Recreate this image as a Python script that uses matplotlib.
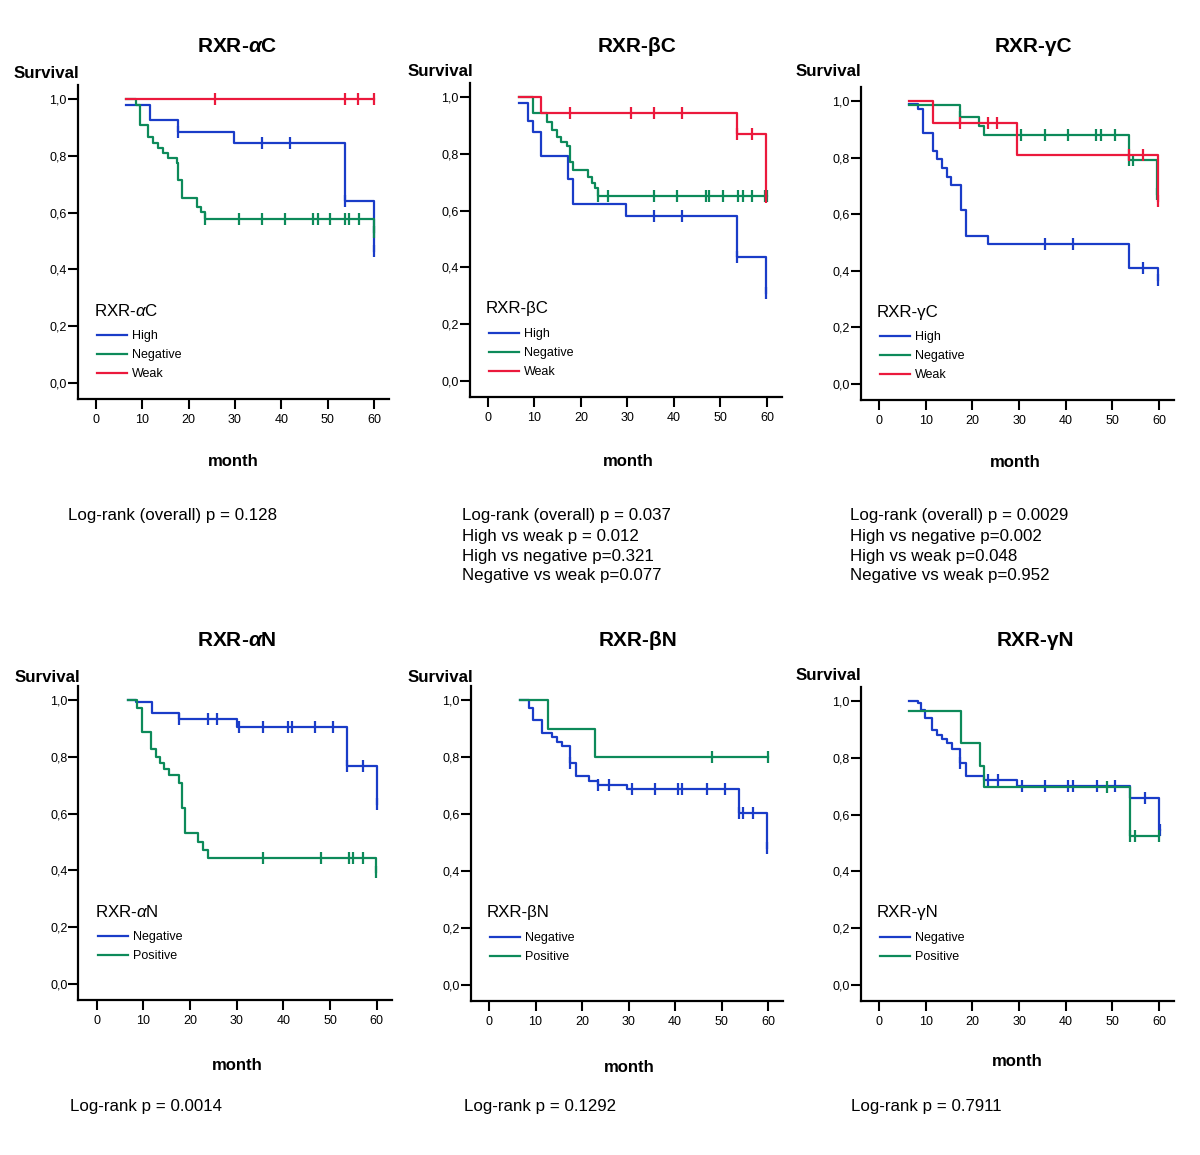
import numpy as np
import matplotlib
matplotlib.use('Agg')
import matplotlib.pyplot as plt

plt.rcParams['font.family'] = ['Liberation Sans', 'DejaVu Sans']
plt.rcParams['mathtext.fontset'] = 'custom'
plt.rcParams['mathtext.rm'] = 'Liberation Sans'
plt.rcParams['mathtext.it'] = 'Liberation Sans:italic'
plt.rcParams['mathtext.bf'] = 'Liberation Sans:bold:italic'

BLUE = '#1a3cc8'
GREEN = '#0d8a5a'
RED = '#eb193c'

W, H = 1200, 1155

# ---- data (month, survival) ----
# RXR-alpha C
aC_high_t = [6.5, 11.7, 17.6, 29.8, 53.7, 59.9]
aC_high_s = [0.98, 0.926, 0.885, 0.844, 0.642, 0.466]
aC_high_cens = [17.6, 35.8, 41.9, 53.7, 59.9]
aC_neg_t = [6.5, 8.6, 9.5, 11.3, 12.4, 13.4, 14.5, 15.6, 17.4, 17.8, 18.5, 21.7, 22.6, 23.5, 59.9]
aC_neg_s = [1.0, 0.98, 0.908, 0.867, 0.844, 0.826, 0.811, 0.793, 0.775, 0.714, 0.650, 0.621, 0.603, 0.576, 0.533]
aC_neg_cens = [23.5, 30.9, 35.8, 40.8, 46.9, 48.0, 50.6, 53.7, 54.7, 56.8, 59.9]
aC_weak_t = [6.5]
aC_weak_s = [1.0]
aC_weak_cens = [25.7, 53.7, 56.6, 59.9]

# RXR-beta C
bC_high_t = [6.7, 8.7, 9.6, 11.4, 17.1, 18.3, 29.7, 53.5, 59.8]
bC_high_s = [0.98, 0.917, 0.875, 0.792, 0.710, 0.622, 0.582, 0.438, 0.309]
bC_high_cens = [35.7, 41.8, 53.5, 59.8]
bC_neg_t = [6.7, 9.6, 12.6, 13.7, 14.8, 15.8, 16.9, 17.6, 18.3, 21.6, 22.3, 23.0, 23.7]
bC_neg_s = [1.0, 0.945, 0.913, 0.884, 0.858, 0.843, 0.826, 0.772, 0.743, 0.719, 0.696, 0.678, 0.651]
bC_neg_cens = [23.7, 25.7, 35.7, 40.7, 46.8, 47.6, 50.6, 53.8, 54.8, 56.7, 59.6, 60.1]
bC_weak_t = [6.7, 11.5, 53.5, 59.8]
bC_weak_s = [1.0, 0.945, 0.869, 0.649]
bC_weak_cens = [17.6, 30.8, 35.7, 41.8, 53.5, 56.7, 59.8]

# RXR-gamma C
gC_high_t = [6.5, 8.4, 9.5, 11.5, 12.5, 13.6, 14.6, 15.4, 17.5, 18.6, 23.4, 53.6, 59.7]
gC_high_s = [0.99, 0.973, 0.888, 0.825, 0.794, 0.762, 0.733, 0.703, 0.615, 0.523, 0.494, 0.409, 0.367]
gC_high_cens = [35.6, 41.6, 56.6, 59.7]
gC_neg_t = [6.5, 17.4, 21.5, 22.4, 53.6, 59.5]
gC_neg_s = [0.985, 0.942, 0.91, 0.880, 0.792, 0.671]
gC_neg_cens = [17.4, 30.4, 35.6, 40.6, 46.6, 47.5, 50.6, 53.6, 54.5, 59.5]
gC_weak_t = [6.5, 11.5, 29.5, 59.7]
gC_weak_s = [1.0, 0.923, 0.809, 0.648]
gC_weak_cens = [17.4, 23.4, 25.2, 53.6, 56.6, 59.7]

# RXR-alpha N
aN_neg_t = [6.8, 8.5, 11.8, 17.7, 30.0, 53.6, 60.0]
aN_neg_s = [1.0, 0.994, 0.955, 0.932, 0.906, 0.768, 0.633]
aN_neg_cens = [17.7, 23.9, 25.8, 30.4, 35.7, 40.9, 41.8, 46.8, 50.7, 53.6, 57.0, 60.0]
aN_pos_t = [6.8, 8.6, 9.6, 11.6, 12.6, 13.6, 14.5, 15.5, 17.6, 18.2, 18.9, 21.8, 22.7, 23.8, 59.9]
aN_pos_s = [1.0, 0.971, 0.888, 0.827, 0.798, 0.777, 0.756, 0.736, 0.709, 0.618, 0.530, 0.501, 0.472, 0.443, 0.395]
aN_pos_cens = [35.7, 48.0, 54.0, 55.0, 57.0, 59.9]

# RXR-beta N
bN_neg_t = [6.7, 8.7, 9.5, 11.5, 13.5, 14.7, 15.6, 17.4, 18.7, 21.6, 23.4, 29.6, 53.8, 59.7]
bN_neg_s = [1.0, 0.971, 0.930, 0.885, 0.869, 0.854, 0.839, 0.778, 0.733, 0.717, 0.702, 0.687, 0.602, 0.480]
bN_neg_cens = [17.4, 23.5, 25.7, 30.7, 35.7, 40.7, 41.6, 46.8, 50.7, 53.8, 54.7, 56.8, 59.7]
bN_pos_t = [6.7, 12.6, 22.7]
bN_pos_s = [1.0, 0.9, 0.8]
bN_pos_cens = [47.9, 60.1]

# RXR-gamma N
gN_neg_t = [6.5, 8.4, 9.0, 9.8, 11.3, 12.4, 13.4, 14.6, 15.6, 17.4, 18.6, 22.5, 29.5, 53.8, 59.9]
gN_neg_s = [1.0, 0.992, 0.968, 0.939, 0.898, 0.880, 0.865, 0.852, 0.830, 0.780, 0.736, 0.722, 0.701, 0.660, 0.546]
gN_neg_cens = [17.4, 23.4, 25.6, 30.6, 35.6, 40.6, 41.5, 46.8, 50.6, 56.9, 60.2]
gN_pos_t = [6.5, 17.6, 21.6, 22.5, 53.8]
gN_pos_s = [0.966, 0.851, 0.771, 0.696, 0.525]
gN_pos_cens = [48.9, 53.8, 54.9, 60.1]

x_ticks = [0, 10, 20, 30, 40, 50, 60]
y_ticks = [0.0, 0.2, 0.4, 0.6, 0.8, 1.0]
y_ticklabels = ['0,0', '0,2', '0,4', '0,6', '0,8', '1,0']

# panel: title, legend title, groups, stats, geometry in pixels
panels = [
    dict(title=r'RXR-$\mathbf{\alpha}$C', leg=r'RXR-$\alpha$C',
         groups=[('High', BLUE, aC_high_t, aC_high_s, aC_high_cens),
                 ('Negative', GREEN, aC_neg_t, aC_neg_s, aC_neg_cens),
                 ('Weak', RED, aC_weak_t, aC_weak_s, aC_weak_cens)],
         stats=['Log-rank (overall) p = 0.128'],
         x0=96, sx=4.633, y1=99, y0=383,
         title_xy=(237, 47), surv_xy=(79, 74), month_xy=(233, 462), stats_xy=(68, 516)),
    dict(title='RXR-βC', leg='RXR-βC',
         groups=[('High', BLUE, bC_high_t, bC_high_s, bC_high_cens),
                 ('Negative', GREEN, bC_neg_t, bC_neg_s, bC_neg_cens),
                 ('Weak', RED, bC_weak_t, bC_weak_s, bC_weak_cens)],
         stats=['Log-rank (overall) p = 0.037', 'High vs weak p = 0.012',
                'High vs negative p=0.321', 'Negative vs weak p=0.077'],
         x0=488, sx=4.65, y1=97, y0=381,
         title_xy=(637, 47), surv_xy=(473, 72), month_xy=(628, 461), stats_xy=(462, 516)),
    dict(title='RXR-γC', leg='RXR-γC',
         groups=[('High', BLUE, gC_high_t, gC_high_s, gC_high_cens),
                 ('Negative', GREEN, gC_neg_t, gC_neg_s, gC_neg_cens),
                 ('Weak', RED, gC_weak_t, gC_weak_s, gC_weak_cens)],
         stats=['Log-rank (overall) p = 0.0029', 'High vs negative p=0.002',
                'High vs weak p=0.048', 'Negative vs weak p=0.952'],
         x0=879, sx=4.667, y1=101, y0=384,
         title_xy=(1033, 47), surv_xy=(861, 71), month_xy=(1015, 463), stats_xy=(850, 516)),
    dict(title=r'RXR-$\mathbf{\alpha}$N', leg=r'RXR-$\alpha$N',
         groups=[('Negative', BLUE, aN_neg_t, aN_neg_s, aN_neg_cens),
                 ('Positive', GREEN, aN_pos_t, aN_pos_s, aN_pos_cens)],
         stats=['Log-rank p = 0.0014'],
         x0=96.7, sx=4.667, y1=700, y0=984,
         title_xy=(237, 641), surv_xy=(80, 677), month_xy=(237, 1066), stats_xy=(70, 1106)),
    dict(title='RXR-βN', leg='RXR-βN',
         groups=[('Negative', BLUE, bN_neg_t, bN_neg_s, bN_neg_cens),
                 ('Positive', GREEN, bN_pos_t, bN_pos_s, bN_pos_cens)],
         stats=['Log-rank p = 0.1292'],
         x0=489, sx=4.65, y1=700, y0=985,
         title_xy=(638, 641), surv_xy=(473, 677), month_xy=(629, 1067), stats_xy=(464, 1106)),
    dict(title='RXR-γN', leg='RXR-γN',
         groups=[('Negative', BLUE, gN_neg_t, gN_neg_s, gN_neg_cens),
                 ('Positive', GREEN, gN_pos_t, gN_pos_s, gN_pos_cens)],
         stats=['Log-rank p = 0.7911'],
         x0=879, sx=4.667, y1=701, y0=985,
         title_xy=(1035, 641), surv_xy=(861, 676), month_xy=(1017, 1062), stats_xy=(851, 1106)),
]

XMIN, XMAX = -3.9, 63.3
YMIN, YMAX = -0.055, 1.05

fig = plt.figure(figsize=(W / 100, H / 100), dpi=100)


def fx(x):
    return x / W


def fy(y):
    return 1 - y / H


for p in panels:
    sy = p['y0'] - p['y1']
    left = p['x0'] + XMIN * p['sx']
    width = (XMAX - XMIN) * p['sx']
    top = p['y1'] - (YMAX - 1) * sy
    height = (YMAX - YMIN) * sy
    ax = fig.add_axes([fx(left), fy(top + height), width / W, height / H])

    handles = []
    for name, col, t, s, cens in p['groups']:
        end = max(t[-1], max(cens))
        xs = list(t) + [end]
        ys = list(s) + [s[-1]]
        ln, = ax.step(xs, ys, where='post', color=col, lw=1.6, label=name)
        # censor marks sit on the step function
        idx = np.searchsorted(np.array(t), np.array(cens), side='right') - 1
        cy = np.array(s)[idx]
        ax.plot(cens, cy, ls='none', marker='|', ms=8, mew=1.6, color=col)
        handles.append(ln)

    ax.set_xlim(XMIN, XMAX)
    ax.set_ylim(YMIN, YMAX)
    ax.set_xticks(x_ticks)
    ax.set_yticks(y_ticks)
    ax.set_yticklabels(y_ticklabels)
    ax.tick_params(axis='both', direction='out', length=7, width=1.5, labelsize=9)
    ax.tick_params(axis='y', pad=1)
    ax.tick_params(axis='x', pad=4)
    for side in ['top', 'right']:
        ax.spines[side].set_visible(False)
    for side in ['left', 'bottom']:
        ax.spines[side].set_linewidth(1.6)

    # legend: title as its own text, entries below
    ax.text(0.052, 0.28, p['leg'], transform=ax.transAxes, ha='left',
            va='center', fontsize=12.2)
    ax.legend(handles=handles, loc='upper left',
              bbox_to_anchor=(0.062, 0.218), frameon=False, fontsize=9,
              handlelength=2.4, handletextpad=0.4, labelspacing=0.55,
              borderpad=0, borderaxespad=0)

    tx, ty = p['title_xy']
    fig.text(fx(tx), fy(ty), p['title'], ha='center', va='center',
             fontsize=15, fontweight='bold')
    sxp, syp = p['surv_xy']
    fig.text(fx(sxp), fy(syp), 'Survival', ha='right', va='center',
             fontsize=12.2, fontweight='bold')
    mx, my = p['month_xy']
    fig.text(fx(mx), fy(my), 'month', ha='center', va='center',
             fontsize=12, fontweight='bold')
    stx, sty = p['stats_xy']
    for i, line in enumerate(p['stats']):
        fig.text(fx(stx), fy(sty + 20 * i), line, ha='left', va='center',
                 fontsize=12.2)

fig.savefig('out.png', dpi=100)
